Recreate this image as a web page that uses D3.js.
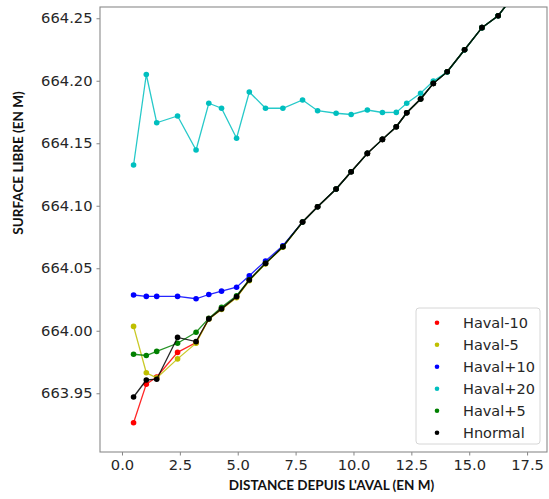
<!DOCTYPE html>
<html>
<head>
<meta charset="utf-8">
<script src="https://cdn.jsdelivr.net/npm/d3@7"></script>
<style>
  html, body { margin: 0; padding: 0; background: #fff; }
  svg { display: block; }
</style>
</head>
<body>
<svg id="chart" width="549" height="499"></svg>
<script>
// ---- data ----
const distance = [0.5, 1.05, 1.5, 2.4, 3.2, 3.75, 4.3, 4.95, 5.5, 6.2, 6.95, 7.8, 8.45, 9.25, 9.9, 10.6, 11.25, 11.85, 12.3, 12.9, 13.45, 14.05, 14.8, 15.55, 16.25, 17.0];

const havalM10 = [663.9264, 663.9573, 663.9630, 663.9827, 663.9905, 664.0097, 664.0176, 664.0270, 664.0406, 664.0539, 664.0672, 664.0870, 664.0992, 664.1134, 664.1272, 664.1419, 664.1531, 664.1632, 664.1744, 664.1854, 664.1979, 664.2072, 664.2248, 664.2425, 664.2520, 664.2700];
const havalM5 = [664.0035, 663.9664, 663.9623, 663.9775, 663.9901, 664.0093, 664.0170, 664.0265, 664.0400, 664.0535, 664.0668, 664.0870, 664.0992, 664.1134, 664.1272, 664.1419, 664.1531, 664.1632, 664.1744, 664.1854, 664.1979, 664.2072, 664.2248, 664.2425, 664.2520, 664.2700];
const havalP10 = [664.0286, 664.0275, 664.0275, 664.0275, 664.0256, 664.0290, 664.0317, 664.0348, 664.0440, 664.0558, 664.0680, 664.0870, 664.0992, 664.1134, 664.1272, 664.1419, 664.1531, 664.1632, 664.1744, 664.1854, 664.1979, 664.2072, 664.2248, 664.2425, 664.2520, 664.2700];
const havalP20 = [664.1326, 664.2050, 664.1664, 664.1718, 664.1446, 664.1820, 664.1780, 664.1540, 664.1910, 664.1780, 664.1780, 664.1846, 664.1760, 664.1740, 664.1730, 664.1766, 664.1746, 664.1747, 664.1820, 664.1900, 664.1998, 664.2070, 664.2248, 664.2425, 664.2520, 664.2700];
const havalP5 = [663.9812, 663.9802, 663.9835, 663.9900, 663.9988, 664.0099, 664.0187, 664.0280, 664.0408, 664.0540, 664.0672, 664.0870, 664.0992, 664.1134, 664.1272, 664.1419, 664.1531, 664.1632, 664.1744, 664.1854, 664.1979, 664.2072, 664.2248, 664.2425, 664.2520, 664.2700];
const hNormal = [663.9470, 663.9606, 663.9612, 663.9947, 663.9913, 664.0095, 664.0175, 664.0272, 664.0406, 664.0539, 664.0672, 664.0870, 664.0992, 664.1134, 664.1272, 664.1419, 664.1531, 664.1632, 664.1744, 664.1854, 664.1979, 664.2072, 664.2248, 664.2425, 664.2520, 664.2700];

const seriesNames = ["Haval-10", "Haval-5", "Haval+10", "Haval+20", "Haval+5", "Hnormal"];
const seriesValues = [havalM10, havalM5, havalP10, havalP20, havalP5, hNormal];
const seriesColors = ["#ff0000", "#bfbf00", "#0000ff", "#00bfbf", "#008000", "#000000"];

const xTicks = [0, 2.5, 5, 7.5, 10, 12.5, 15, 17.5];
const yTicks = [663.95, 664.00, 664.05, 664.10, 664.15, 664.20, 664.25];

const xLabel = "DISTANCE DEPUIS L'AVAL (EN M)";
const yLabel = "SURFACE LIBRE (EN M)";

// ---- layout ----
const svg = d3.select("#chart");
const plot = { left: 100, right: 547, top: 7, bottom: 452 };

const x = d3.scaleLinear().domain([-0.95, 18.36]).range([plot.left, plot.right]);
const y = d3.scaleLinear().domain([663.903, 664.259]).range([plot.bottom, plot.top]);

svg.append("defs").append("clipPath").attr("id", "clip")
  .append("rect")
  .attr("x", plot.left).attr("y", plot.top)
  .attr("width", plot.right - plot.left).attr("height", plot.bottom - plot.top);

const tickFont = "'DejaVu Sans', sans-serif";

// axes
const xAxis = svg.append("g")
  .attr("transform", `translate(0,${plot.bottom})`)
  .call(d3.axisBottom(x).tickValues(xTicks).tickFormat(d3.format(".1f")).tickSize(3.5).tickPadding(4));
const yAxis = svg.append("g")
  .attr("transform", `translate(${plot.left},0)`)
  .call(d3.axisLeft(y).tickValues(yTicks).tickFormat(d3.format(".2f")).tickSize(3.5).tickPadding(4));

[xAxis, yAxis].forEach(g => {
  g.select(".domain").remove();
  g.selectAll(".tick line").attr("stroke", "#777").attr("stroke-width", 0.9);
  g.selectAll(".tick text").attr("fill", "#262626")
    .style("font-family", tickFont).style("font-size", "14.7px");
});

// frame
svg.append("rect")
  .attr("x", plot.left).attr("y", plot.top)
  .attr("width", plot.right - plot.left).attr("height", plot.bottom - plot.top)
  .attr("fill", "none").attr("stroke", "#8a8a8a").attr("stroke-width", 1.1);

// series
const gData = svg.append("g").attr("clip-path", "url(#clip)");
const line = d3.line().x((d, i) => x(distance[i])).y(d => y(d));

seriesValues.forEach((vals, s) => {
  const g = gData.append("g");
  g.append("path")
    .attr("d", line(vals))
    .attr("fill", "none")
    .attr("stroke", seriesColors[s])
    .attr("stroke-width", 1.3)
    .attr("stroke-opacity", 0.85);
  g.selectAll("circle").data(vals).join("circle")
    .attr("cx", (d, i) => x(distance[i]))
    .attr("cy", d => y(d))
    .attr("r", 2.8)
    .attr("fill", seriesColors[s]);
});

// legend
const legend = svg.append("g");
legend.append("rect")
  .attr("x", 416).attr("y", 308).attr("width", 124).attr("height", 136)
  .attr("rx", 3).attr("fill", "#fff").attr("fill-opacity", 0.8)
  .attr("stroke", "#d6d6d6").attr("stroke-width", 1);
seriesNames.forEach((name, i) => {
  const cy = 322.7 + i * 22;
  legend.append("circle").attr("cx", 437).attr("cy", cy).attr("r", 2.3).attr("fill", seriesColors[i]);
  legend.append("text").attr("x", 463).attr("y", cy).attr("dy", "0.36em")
    .attr("fill", "#262626")
    .style("font-family", tickFont).style("font-size", "14.5px")
    .text(name);
});

// axis titles
svg.append("text")
  .attr("x", 331.5).attr("y", 490)
  .attr("text-anchor", "middle")
  .attr("fill", "#111")
  .style("font-family", "Lato, 'Open Sans', sans-serif").style("font-weight", "bold").style("font-size", "13.5px")
  .text(xLabel);

svg.append("text")
  .attr("transform", "translate(23,163) rotate(-90)")
  .attr("text-anchor", "middle")
  .attr("fill", "#111")
  .style("font-family", "Lato, 'Open Sans', sans-serif").style("font-weight", "bold").style("font-size", "13.5px")
  .text(yLabel);
</script>
</body>
</html>
